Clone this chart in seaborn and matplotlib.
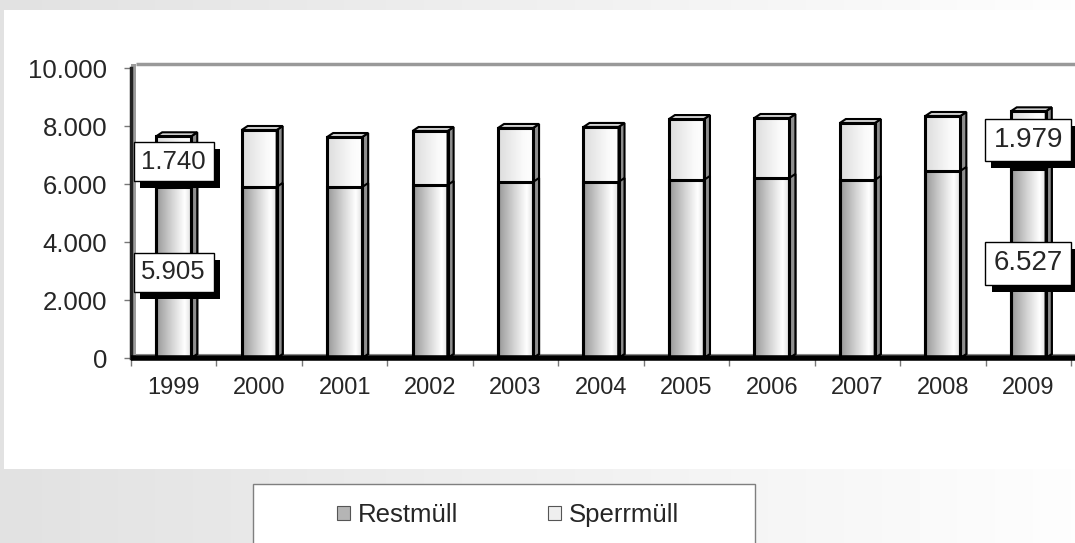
import numpy as np
import matplotlib
matplotlib.use("Agg")
import matplotlib.pyplot as plt
import seaborn as sns
from matplotlib.patches import Polygon, Rectangle, Patch
from matplotlib.colors import LinearSegmentedColormap
import matplotlib.patheffects as pe
from matplotlib import font_manager

# ---- data ----
years = ["1999", "2000", "2001", "2002", "2003", "2004", "2005", "2006", "2007", "2008", "2009"]
restmuell = [5905, 5900, 5895, 5965, 6070, 6070, 6140, 6210, 6140, 6450, 6527]
sperrmuell = [1740, 1962, 1725, 1863, 1862, 1897, 2100, 2066, 1963, 1895, 1979]
series_names = ["Restmüll", "Sperrmüll"]
yticks = [0, 2000, 4000, 6000, 8000, 10000]

totals = [r + s for r, s in zip(restmuell, sperrmuell)]


def de(v):
    return f"{v:,.0f}".replace(",", ".")


sns.set_theme(style="white")
plt.rcParams["font.family"] = ["Liberation Sans", "DejaVu Sans"]
names = {f.name for f in font_manager.fontManager.ttflist}
narrow = "Liberation Sans Narrow" if "Liberation Sans Narrow" in names else "Liberation Sans"

W, H = 1075, 543
fig = plt.figure(figsize=(W / 100, H / 100), dpi=100)

# background gradient + white panel + legend box
bg = fig.add_axes([0, 0, 1, 1], zorder=-10)
grad = np.linspace(0, 1, 256)[None, :]
bg.imshow(grad, extent=[0, 1, 0, 1], aspect="auto",
          cmap=LinearSegmentedColormap.from_list("bg", ["#e2e2e2", "#fefefe"]),
          transform=bg.transAxes)
bg.add_patch(Rectangle((4 / W, (H - 469) / H), 1 - 4 / W, (469 - 10) / H,
                       transform=bg.transAxes, facecolor="white", edgecolor="none"))
bg.add_patch(Rectangle((253 / W, -0.05), (755 - 253) / W, (H - 484) / H + 0.05,
                       transform=bg.transAxes, facecolor="white", edgecolor="#7f7f7f", lw=1))
bg.set_xlim(0, 1)
bg.set_ylim(0, 1)
bg.axis("off")

# main axes
ax = fig.add_axes([131 / W, 185 / H, 944 / W, 290 / H])
ax.patch.set_alpha(0)

bw = 0.41
sns.barplot(x=years, y=totals, color="#eeeeee", width=bw, saturation=1,
            edgecolor="black", linewidth=2.2, ax=ax)
sns.barplot(x=years, y=restmuell, color="#bbbbbb", width=bw, saturation=1,
            edgecolor="black", linewidth=2.2, ax=ax)

dx = 6 / 85.45
dy = 4 / 29.0 * 1000

cm_rest = LinearSegmentedColormap.from_list(
    "rest", [(0, "#979797"), (0.45, "#d4d4d4"), (0.8, "#ffffff"), (1, "#dcdcdc")])
cm_sperr = LinearSegmentedColormap.from_list(
    "sperr", [(0, "#dcdcdc"), (0.7, "#fafafa"), (1, "#ffffff")])

n = len(years)
patches = list(ax.patches)
for k, p in enumerate(patches):
    x0, y0, w, h = p.get_x(), p.get_y(), p.get_width(), p.get_height()
    x1, y1 = x0 + w, y0 + h
    cmap = cm_sperr if k < n else cm_rest
    ax.imshow(grad, extent=[x0, x1, y0, y1], aspect="auto", cmap=cmap, zorder=2)
    p.set_facecolor("none")
    p.set_zorder(3)
    ax.add_patch(Polygon([(x1, y0), (x1 + dx, y0 + dy), (x1 + dx, y1 + dy), (x1, y1)],
                         closed=True, facecolor="#8e8e8e", edgecolor="black", lw=1.5, zorder=2.5))
    if k < n:
        ax.add_patch(Polygon([(x0, y1), (x0 + dx, y1 + dy), (x1 + dx, y1 + dy), (x1, y1)],
                             closed=True, facecolor="#d4d4d4", edgecolor="black", lw=1.5, zorder=2.6))

xmin, xmax = -0.5, 10.5 + 4 / 85.45
ax.set_xlim(xmin, xmax)
ax.set_ylim(0, 10000)

# 3D floor and wall
ax.add_patch(Rectangle((xmin, 0), xmax - xmin, dy, facecolor="#e6e6e6",
                       edgecolor="#888888", lw=0.8, zorder=1, clip_on=False))
ax.add_patch(Rectangle((xmin, 0), dx * 0.85, 10000 + dy, facecolor="#9c9c9c",
                       edgecolor="none", zorder=1.5, clip_on=False))
ax.plot([xmin + dx * 0.85, xmax], [10000 + dy] * 2, color="#999999", lw=2.5,
        solid_capstyle="butt", clip_on=False, zorder=1.5)
ax.plot([xmin, xmax], [0, 0], color="black", lw=4, solid_capstyle="butt",
        clip_on=False, zorder=4)

for s in ["top", "right", "bottom"]:
    ax.spines[s].set_visible(False)
ax.spines["left"].set_color("#222222")
ax.spines["left"].set_linewidth(2.5)

ax.set_yticks(yticks)
ax.set_yticklabels([de(v) for v in yticks], fontsize=18.5)
ax.tick_params(axis="y", which="major", left=True, length=5, width=1, color="#777777", pad=12)

ax.set_xticks(range(n))
ax.set_xticklabels(years, fontsize=17, family=[narrow, "DejaVu Sans"])
ax.set_xticks(np.arange(-0.5, 11, 1), minor=True)
ax.tick_params(axis="x", which="major", bottom=False, length=0, pad=14)
ax.tick_params(axis="x", which="minor", bottom=True, length=6, width=1, color="#777777")
ax.set_xlabel("")
ax.set_ylabel("")

# data labels for first and last year
for i, fs in [(0, 18.5), (n - 1, 20)]:
    for val, mid in [(sperrmuell[i], restmuell[i] + sperrmuell[i] / 2),
                     (restmuell[i], restmuell[i] / 2)]:
        t = ax.text(i, mid, de(val), ha="center", va="center", fontsize=fs, zorder=6,
                    bbox=dict(boxstyle="square,pad=0.3", fc="white", ec="black", lw=1))
        t.get_bbox_patch().set_path_effects(
            [pe.SimplePatchShadow(offset=(4.5, -5), shadow_rgbFace="black", alpha=1), pe.Normal()])

# legend
handles = [Patch(facecolor="#b5b5b5", edgecolor="#555555", lw=0.8),
           Patch(facecolor="#efefef", edgecolor="#555555", lw=0.8)]
fig.legend(handles, series_names, ncol=2, loc="center",
           bbox_to_anchor=(508 / W, (H - 515) / H), frameon=False, fontsize=18.5,
           handlelength=0.5, handleheight=0.5, handletextpad=0.3, columnspacing=3.5)

fig.savefig("out.png", dpi=100)
